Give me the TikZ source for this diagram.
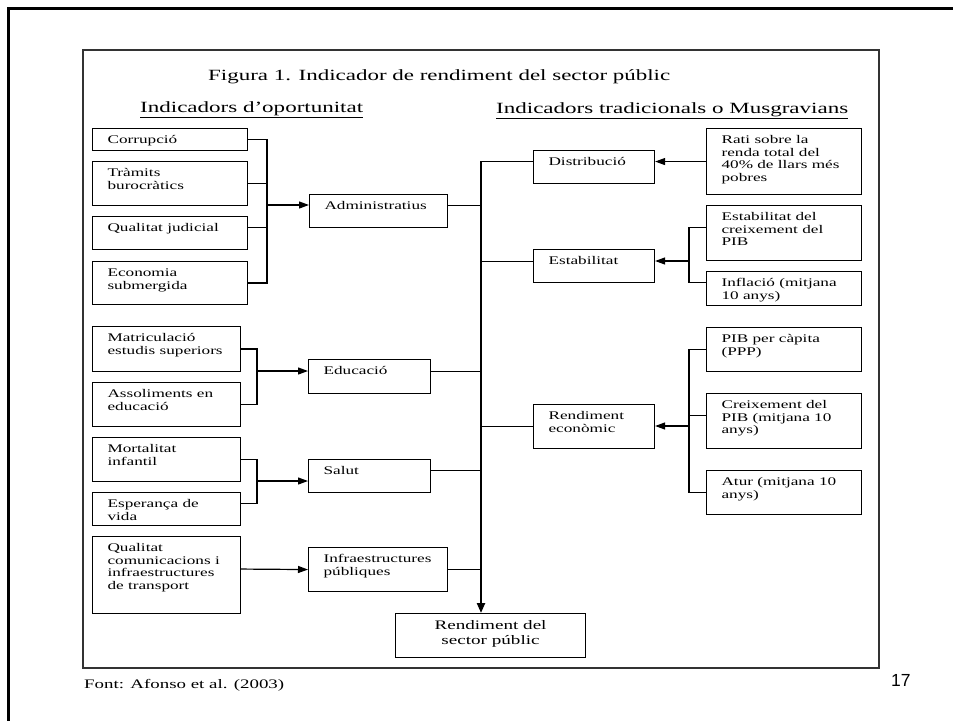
\documentclass[tikz,border=0pt]{standalone}
\usepackage{fontspec}
\usepackage{graphicx}
\setmainfont{Liberation Serif}
\newfontfamily\widefont[FakeStretch=1.47]{Liberation Serif}
\newfontfamily\pagefont{Liberation Sans}
\usepackage{tikz}
\usetikzlibrary{arrows.meta,positioning,calc}

\newcommand{\boxfont}{\widefont\fontsize{11.7pt}{12.5pt}\selectfont}
\newcommand{\headfont}{\widefont\fontsize{15.6pt}{18pt}\selectfont}
\newcommand{\resfont}{\widefont\fontsize{13pt}{15pt}\selectfont}
\newcommand{\boxtext}[3]{\parbox[c][#2][t]{#1}{\raggedright\leftskip=15pt\lineskiplimit=-20pt\rule{0pt}{15pt}#3}}
\newcommand{\fitto}[2]{\resizebox{#1}{\height}{#2}}

\begin{document}
\begin{tikzpicture}[
    x=1pt, y=-1pt,
    box/.style={draw, line width=1.1pt, inner sep=0pt, anchor=north west, font=\boxfont},
    link/.style={line width=1.2pt},
    arrow/.style={-{Triangle[length=10pt,width=7pt]}, line width=1.2pt},
    busarrow/.style={-{Triangle[length=10pt,width=8pt]}, line width=2.2pt},
    heading/.style={anchor=base west, inner sep=0pt, font=\headfont}
]
\useasboundingbox (0,0) rectangle (955,720);

% Slide frame
\draw[line width=3pt] (8,722) -- (8,8) -- (953,8);
\draw[line width=1.3pt, black!80] (83,50) rectangle (879,668);

% Titles
\node[heading] (title) at (208,80) {\fitto{462pt}{Figura 1. Indicador de rendiment del sector públic}};
\node[heading] (hopp) at (140,112) {\fitto{223pt}{\underline{Indicadors d’oportunitat}}};
\node[heading] (hmus) at (496,113) {\fitto{352pt}{\underline{Indicadors tradicionals o Musgravians}}};

% Administratius
\node[box] (corr) at (92,128) {\boxtext{155pt}{22pt}{Corrupció}};
\node[box] (tram) at (92,161) {\boxtext{155pt}{44pt}{Tràmits\\burocràtics}};
\node[box] (qual) at (92,216) {\boxtext{155pt}{33pt}{Qualitat judicial}};
\node[box] (econ) at (92,261) {\boxtext{155pt}{43pt}{Economia\\submergida}};
\node[box] (adm) at (309,194) {\boxtext{138pt}{33pt}{Administratius}};

% Educacio
\node[box] (matr) at (92,326) {\boxtext{148pt}{45pt}{Matriculació\\estudis superiors}};
\node[box] (asso) at (92,382) {\boxtext{148pt}{44pt}{Assoliments en\\educació}};
\node[box] (educ) at (308,359) {\boxtext{122pt}{34pt}{Educació}};

% Salut
\node[box] (mort) at (92,437) {\boxtext{148pt}{44pt}{Mortalitat\\infantil}};
\node[box] (espe) at (92,492) {\boxtext{148pt}{33pt}{Esperança de\\vida}};
\node[box] (salut) at (308,459) {\boxtext{122pt}{33pt}{Salut}};

% Infraestructures
\node[box] (qcom) at (92,536) {\boxtext{148pt}{77pt}{Qualitat\\comunicacions i\\infraestructures\\de transport}};
\node[box] (infra) at (308,547) {\boxtext{139pt}{44pt}{Infraestructures\\públiques}};

% Musgravian indicators
\node[box] (distr) at (533,150) {\boxtext{121pt}{33pt}{Distribució}};
\node[box] (rati) at (706,128) {\boxtext{155pt}{66pt}{Rati sobre la\\renda total del\\40\% de llars més\\pobres}};
\node[box] (estab) at (533,249) {\boxtext{121pt}{33pt}{Estabilitat}};
\node[box] (estcr) at (706,205) {\boxtext{155pt}{55pt}{Estabilitat del\\creixement del\\PIB}};
\node[box] (infl) at (706,271) {\boxtext{155pt}{34pt}{Inflació (mitjana\\10 anys)}};
\node[box] (rend) at (533,404) {\boxtext{121pt}{44pt}{Rendiment\\econòmic}};
\node[box] (pib) at (706,327) {\boxtext{155pt}{44pt}{PIB per càpita\\(PPP)}};
\node[box] (creix) at (706,393) {\boxtext{155pt}{55pt}{Creixement del\\PIB (mitjana 10\\anys)}};
\node[box] (atur) at (706,470) {\boxtext{155pt}{44pt}{Atur (mitjana 10\\anys)}};

% Result
\node[box, font=\resfont] (result) at (395,613) {\parbox[c][44pt][t]{190pt}{\centering\rule{0pt}{16pt}Rendiment del\\sector públic}};

% Junctions
\coordinate (jadm) at (267,205);
\coordinate (jedu) at (257,371);
\coordinate (jsal) at (257,481);
\coordinate (jest) at (689,261);
\coordinate (jrend) at (689,426);
\coordinate (bustop) at (481,161);

% Left side links
\draw[link] (corr.east) -| (jadm) |- (econ.east);
\draw[link] (tram.east) -- (tram.east -| jadm);
\draw[link] ([yshift=5.5pt]qual.east) -- ([yshift=5.5pt]qual.east -| jadm);
\draw[arrow] (jadm) -- (jadm -| adm.west);

\draw[link] (matr.east) -| (jedu) |- (asso.east);
\draw[arrow] (jedu) -- (jedu -| educ.west);

\draw[link] (mort.east) -| (jsal) |- ([yshift=5.5pt]espe.east);
\draw[arrow] (jsal) -- (jsal -| salut.west);

\draw[arrow] ([yshift=6pt]qcom.east) -- (infra.west);

% Right side links
\draw[arrow] (rati.west) -- (rati.west -| distr.east);

\draw[link] ([yshift=5.5pt]estcr.west) -| (jest) |- ([yshift=6pt]infl.west);
\draw[arrow] (jest) -- (jest -| estab.east);

\draw[link] (pib.west) -| (jrend) |- (atur.west);
\draw[link] ([yshift=5.5pt]creix.west) -- ([yshift=5.5pt]creix.west -| jrend);
\draw[arrow] (jrend) -- (jrend -| rend.east);

% Main bus
\draw[link] ([yshift=5.5pt]adm.east) -| (bustop);
\draw[link] ([yshift=5pt]educ.east) -| (bustop);
\draw[link] ([yshift=5.5pt]salut.east) -| (bustop);
\draw[link] (infra.east) -| (bustop);
\draw[link] ([yshift=5.5pt]distr.west) -| (bustop);
\draw[link] ([yshift=4.5pt]estab.west) -| (bustop);
\draw[link] (rend.west) -| (bustop);
\draw[busarrow] (bustop) -- (bustop |- result.north);

% Source and page number
\node[anchor=base west, inner sep=0pt, font=\widefont\fontsize{13pt}{15pt}\selectfont] (src) at (84,688) {\fitto{200pt}{Font: Afonso et al. (2003)}};
\node[anchor=base west, inner sep=0pt, font=\pagefont\fontsize{17.5pt}{20pt}\selectfont] (page) at (891,686) {17};

\end{tikzpicture}
\end{document}
